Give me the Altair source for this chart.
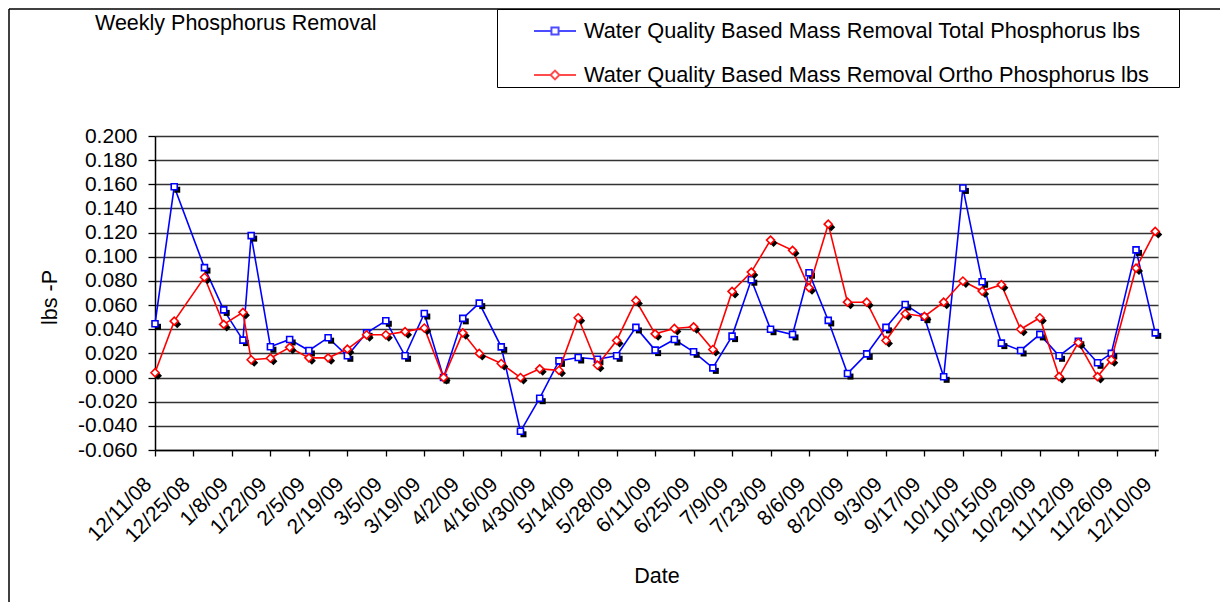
import altair as alt
import pandas as pd

# ---------------- data ----------------
dates = ["2008-12-11", "2008-12-18", "2008-12-29", "2009-01-05", "2009-01-12", "2009-01-15",
         "2009-01-22", "2009-01-29", "2009-02-05", "2009-02-12", "2009-02-19", "2009-02-26",
         "2009-03-05", "2009-03-12", "2009-03-19", "2009-03-26", "2009-04-02", "2009-04-08",
         "2009-04-16", "2009-04-23", "2009-04-30", "2009-05-07", "2009-05-14", "2009-05-21",
         "2009-05-28", "2009-06-04", "2009-06-11", "2009-06-18", "2009-06-25", "2009-07-02",
         "2009-07-09", "2009-07-16", "2009-07-23", "2009-07-31", "2009-08-06", "2009-08-13",
         "2009-08-20", "2009-08-27", "2009-09-03", "2009-09-10", "2009-09-17", "2009-09-24",
         "2009-10-01", "2009-10-08", "2009-10-15", "2009-10-22", "2009-10-29", "2009-11-05",
         "2009-11-12", "2009-11-19", "2009-11-24", "2009-12-03", "2009-12-10"]

total_p = [0.0445, 0.158, 0.091, 0.056, 0.031, 0.1175, 0.0255, 0.0315, 0.0224, 0.033, 0.018, 0.037,
           0.047, 0.018, 0.053, 0.000, 0.049, 0.0616, 0.0254, -0.0445, -0.0171, 0.0138, 0.0166, 0.0152,
           0.018, 0.0415, 0.0227, 0.0315, 0.0213, 0.008, 0.0343, 0.081, 0.040, 0.0357, 0.0868, 0.0473,
           0.0033, 0.0196, 0.0415, 0.0605, 0.050, 0.0006, 0.157, 0.0793, 0.0285, 0.0224, 0.0357, 0.018,
           0.030, 0.0122, 0.020, 0.1057, 0.037]

ortho_p = [0.004, 0.0467, 0.083, 0.044, 0.054, 0.0147, 0.016, 0.025, 0.0163, 0.0163, 0.0235, 0.0354,
           0.0354, 0.038, 0.041, 0.000, 0.037, 0.020, 0.0116, 0.000, 0.0072, 0.006, 0.0495, 0.0102,
           0.0307, 0.0638, 0.0362, 0.0406, 0.042, 0.0232, 0.0713, 0.0873, 0.1138, 0.1053, 0.0744, 0.127,
           0.0624, 0.0624, 0.0307, 0.0528, 0.0506, 0.0624, 0.0799, 0.0716, 0.0769, 0.040, 0.0495, 0.0008,
           0.029, 0.0008, 0.0147, 0.0906, 0.121]

series_names = ["Water Quality Based Mass Removal Total Phosphorus lbs",
                "Water Quality Based Mass Removal Ortho Phosphorus lbs"]
series_colors = ["#0000FF", "#FF0000"]
series_shapes = ["square", "diamond"]

tick_dates = ["2008-12-11", "2008-12-25", "2009-01-08", "2009-01-22", "2009-02-05", "2009-02-19",
              "2009-03-05", "2009-03-19", "2009-04-02", "2009-04-16", "2009-04-30", "2009-05-14",
              "2009-05-28", "2009-06-11", "2009-06-25", "2009-07-09", "2009-07-23", "2009-08-06",
              "2009-08-20", "2009-09-03", "2009-09-17", "2009-10-01", "2009-10-15", "2009-10-29",
              "2009-11-12", "2009-11-26", "2009-12-10"]
x_domain = ["2008-12-11", "2009-12-11"]
y_ticks = [-0.06, -0.04, -0.02, 0.0, 0.02, 0.04, 0.06, 0.08, 0.10, 0.12, 0.14, 0.16, 0.18, 0.20]

chart_title = "Weekly Phosphorus Removal"
x_title = "Date"
y_title = "lbs -P"

FONT = "Liberation Sans"


def dt(s):
    y, m, d = (int(v) for v in s.split("-"))
    return alt.DateTime(year=y, month=m, date=d, utc=True)


df = pd.DataFrame({
    "date": dates * 2,
    "value": total_p + ortho_p,
    "series": [series_names[0]] * len(dates) + [series_names[1]] * len(dates),
})

x_enc = alt.X(
    "date:T",
    scale=alt.Scale(type="utc", domain=[dt(x_domain[0]), dt(x_domain[1])], nice=False),
    axis=alt.Axis(
        values=[dt(s) for s in tick_dates],
        labelExpr="utcFormat(datum.value, '%-m/%-d/%y')",
        labelAngle=315, labelAlign="right", labelBaseline="bottom",
        labelPadding=32,
        labelOverlap=False, labelFlush=False, labelBound=False,
        labelFont=FONT, labelFontSize=21, labelColor="black",
        tickSize=6, tickColor="black", domainColor="black", domainWidth=1.5, tickWidth=1.3,
        grid=False,
        title=x_title, titleFont=FONT, titleFontSize=21.5, titleFontWeight="normal",
        titleColor="black", titleY=126, titleBaseline="middle",
    ),
)

y_enc = alt.Y(
    "value:Q",
    scale=alt.Scale(domain=[y_ticks[0], y_ticks[-1]], nice=False, zero=False),
    axis=alt.Axis(
        values=y_ticks,
        labelExpr="(datum.value < 0 ? '-' : '') + format(abs(datum.value), '.3f')",
        labelFont=FONT, labelFontSize=21, labelColor="black", labelPadding=11,
        labelOverlap=False,
        tickSize=7, tickColor="black", domainColor="black", domainWidth=1.5, tickWidth=1.3,
        grid=True, gridColor="#333333", gridWidth=1.3,
        title=y_title, titleFont=FONT, titleFontSize=21.5, titleFontWeight="normal",
        titleColor="black", titleAngle=270, titleX=-105, titleY=161,
        titleAlign="center", titleBaseline="middle",
    ),
)

base = alt.Chart(df)
layers = []
for name, col, shp in zip(series_names, series_colors, series_shapes):
    sub = base.transform_filter(alt.datum.series == name)
    msize = 36 if shp == "square" else 64
    layers.append(sub.mark_line(color=col, strokeWidth=1.6).encode(x=x_enc, y=y_enc))
    layers.append(sub.mark_point(shape=shp, filled=True, color="black", size=msize,
                                 opacity=1, xOffset=3, yOffset=3).encode(x=x_enc, y=y_enc))
    layers.append(sub.mark_point(shape=shp, filled=True, fill="white", stroke=col,
                                 strokeWidth=1.6, size=msize, opacity=1).encode(x=x_enc, y=y_enc))

# legend symbols: a line segment with the marker in the middle
legend_paths = [
    "M-1,0H-0.17M0.17,0H1M-0.17,-0.17H0.17V0.17H-0.17Z",
    "M-1,0H-0.21M0.21,0H1M-0.21,0L0,-0.21L0.21,0L0,0.21Z",
]
legend_cfg = dict(
    orient="none", legendX=342, legendY=-127,
    title=" ", titleOrient="right", titlePadding=30,
    padding=0, strokeColor="black", fillColor="white",
    symbolSize=1764, symbolStrokeWidth=2, symbolOffset=36,
    labelOffset=7, labelFont=FONT, labelFontSize=21.75,
    labelColor="black", labelLimit=0, rowPadding=10,
)
legend_layer = base.transform_filter("false").mark_point(filled=False, strokeWidth=2).encode(
    stroke=alt.Stroke("series:N", scale=alt.Scale(domain=series_names, range=series_colors),
                      legend=alt.Legend(**legend_cfg)),
    shape=alt.Shape("series:N", scale=alt.Scale(domain=series_names, range=legend_paths),
                    legend=alt.Legend(**legend_cfg)),
)

one = alt.Data(values=[{"k": 1}])
frame_left = alt.Chart(one).mark_rule(color="black", strokeWidth=1.5).encode(
    x=alt.value(-146), y=alt.value(-127), y2=alt.value(480))
frame_top = alt.Chart(one).mark_rule(color="black", strokeWidth=1.5).encode(
    x=alt.value(-146), x2=alt.value(1070), y=alt.value(-127))
title_text = alt.Chart(one).mark_text(
    text=chart_title, align="left", baseline="alphabetic",
    font=FONT, fontSize=21.5, color="black",
).encode(x=alt.value(-60), y=alt.value(-106))

chart = alt.layer(frame_left, frame_top, title_text, *layers, legend_layer).properties(
    width=1003, height=314,
    padding={"left": 147, "top": 128, "right": 62, "bottom": 152},
    autosize=alt.AutoSizeParams(type="none"),
).configure_view(stroke="#808080", strokeWidth=1.5).configure(background="white")

chart.save("out.html", embed_options={"renderer": "svg", "actions": False})
